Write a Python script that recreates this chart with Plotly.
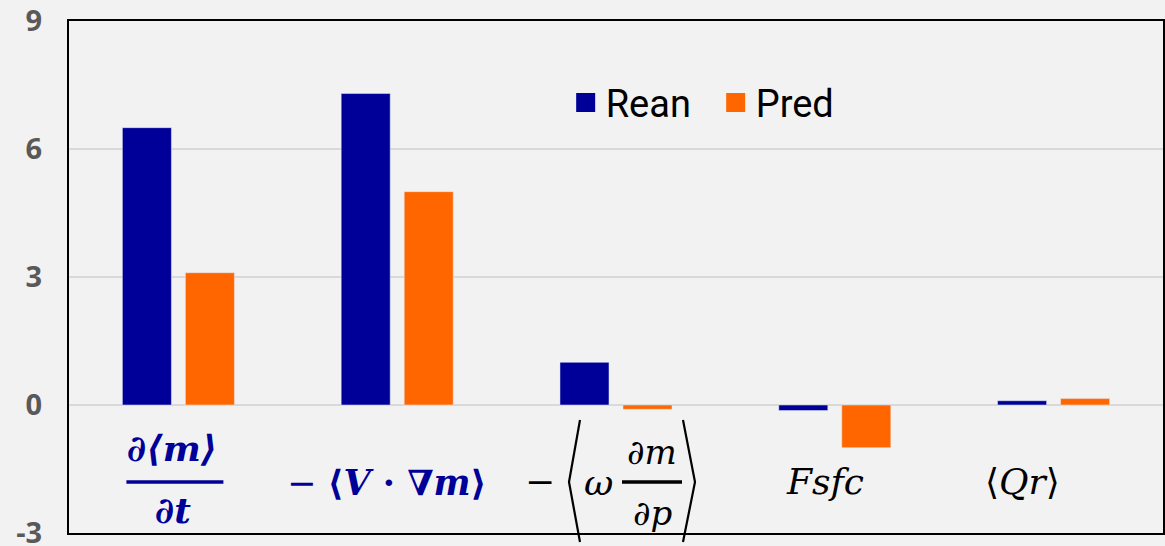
import plotly.graph_objects as go

# Budget terms (categories) and the two series
categories = ["dm_dt", "adv", "vert", "Fsfc", "Qr"]
rean = [6.5, 7.3, 1.0, -0.13, 0.1]
pred = [3.1, 5.0, -0.1, -1.0, 0.15]
series_names = ["Rean", "Pred"]
series_colors = ["#000099", "#ff6600"]

y_tickvals = [-3, 0, 3, 6, 9]
y_ticktext = ["-3", "0", "3", "6", "9"]

NAVY = "#000099"
MATH_FONT = "DejaVu Serif"

fig = go.Figure()
for name, vals, col in zip(series_names, [rean, pred], series_colors):
    fig.add_trace(go.Bar(x=categories, y=vals, name=name, marker_color=col,
                         showlegend=False))
    # legend entry with a larger square swatch
    fig.add_trace(go.Scatter(x=[None], y=[None], mode="markers", name=name,
                             marker=dict(symbol="square", size=16, color=col,
                                         line=dict(color=col, width=3))))

# Math-style category labels: (category, text, xshift, yshift, color, size)
labels = [
    ("dm_dt", "<b><i>∂⟨m⟩</i></b>", -6, 85, NAVY, 36),
    ("dm_dt", "<b><i>∂t</i></b>", -5, 23, NAVY, 36),
    ("adv", "− <b>⟨<i>V</i> · ∇<i>m</i>⟩</b>", -10, 51, NAVY, 35),
    ("vert", "−", -76, 52, "black", 36),
    ("vert", "<i>ω</i>", -18, 51, "black", 36),
    ("vert", "<i>∂m</i>", 36, 81, "black", 34),
    ("vert", "<i>∂p</i>", 36, 20, "black", 34),
    ("Fsfc", "<i>Fsfc</i>", -10, 52, "black", 36),
    ("Qr", "⟨<i>Qr</i>⟩", -31, 52, "black", 36),
]
for cat, txt, dx, dy, col, sz in labels:
    fig.add_annotation(x=cat, xref="x", y=0, yref="paper", text=txt,
                       showarrow=False, xanchor="center", yanchor="middle",
                       xshift=dx, yshift=dy,
                       font=dict(family=MATH_FONT, size=sz, color=col))

# fraction bars: (category, x0, x1, height above plot bottom, color)
frac_bars = [("dm_dt", -52, 45, 51, NAVY), ("vert", 6, 66, 51, "black")]
for cat, x0, x1, h, col in frac_bars:
    fig.add_shape(type="line", xref="x", yref="paper", xsizemode="pixel",
                  ysizemode="pixel", xanchor=cat, yanchor=0,
                  x0=x0, x1=x1, y0=h, y1=h, line=dict(color=col, width=3.5))

# tall angle brackets around the vertical advection term
for path in ["M-36,113 L-47,51 L-36,-9", "M67,113 L79,51 L67,-9"]:
    fig.add_shape(type="path", xref="x", yref="paper", xsizemode="pixel",
                  ysizemode="pixel", xanchor="vert", yanchor=0, path=path,
                  line=dict(color="black", width=2.2))

fig.update_layout(
    width=1165, height=546,
    margin=dict(l=69, r=2, t=21, b=13, autoexpand=False),
    paper_bgcolor="#f2f2f2", plot_bgcolor="#f2f2f2",
    barmode="group", bargap=0.424, bargroupgap=0.222,
    legend=dict(orientation="h", x=0.454, y=0.84, xanchor="left",
                yanchor="middle", bgcolor="rgba(0,0,0,0)",
                entrywidth=105, entrywidthmode="pixels", itemsizing="trace",
                font=dict(family="Liberation Sans Narrow, Roboto", size=38,
                          color="black")),
    xaxis=dict(type="category", showticklabels=False, showgrid=False,
               showline=True, mirror=True, linecolor="black", linewidth=2,
               ticks="", automargin=False),
    yaxis=dict(range=[-3, 9], tickvals=y_tickvals, ticktext=y_ticktext,
               showgrid=True, gridcolor="#d9d9d9", gridwidth=1.5,
               zeroline=True, zerolinecolor="#d9d9d9", zerolinewidth=1.5,
               showline=True, mirror=True, linecolor="black", linewidth=2,
               ticks="", ticklabelstandoff=19, ticklabeloverflow="allow",
               automargin=False,
               tickfont=dict(family="Open Sans", size=29, color="#595959",
                             weight="bold")),
)

fig.write_html("out.html")
